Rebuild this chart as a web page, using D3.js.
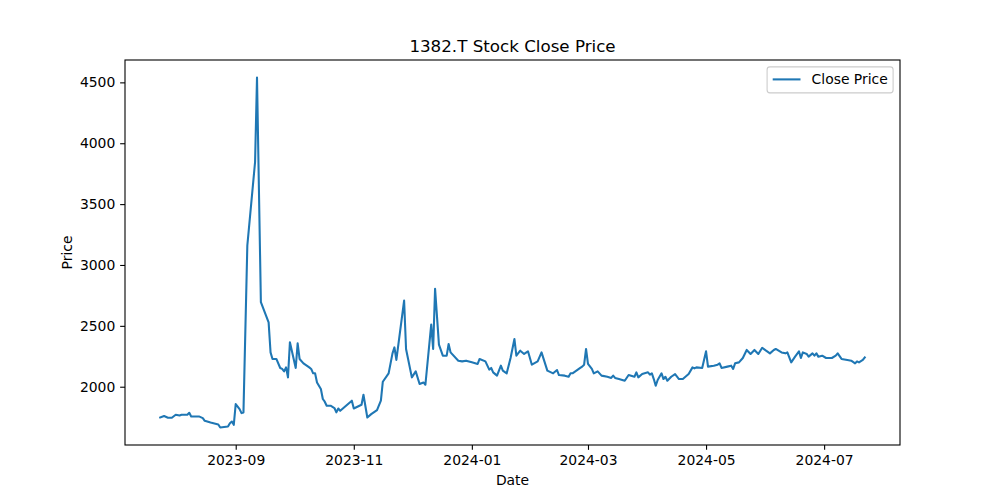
<!DOCTYPE html>
<html>
<head>
<meta charset="utf-8">
<script src="https://cdn.jsdelivr.net/npm/d3@7"></script>
<style>
  html, body { margin: 0; padding: 0; background: #fff; }
  svg { display: block; }
  text { font-family: "DejaVu Sans", sans-serif; fill: #000; }
</style>
</head>
<body>
<svg id="chart" width="1000" height="500"></svg>
<script>
const chartTitle = "1382.T Stock Close Price";
const xLabel = "Date";
const yLabel = "Price";
const seriesName = "Close Price";

const dates = [
  "2023-07-24","2023-07-26","2023-07-28","2023-07-30","2023-08-01","2023-08-03","2023-08-04","2023-08-07",
  "2023-08-08","2023-08-09","2023-08-11","2023-08-13","2023-08-15","2023-08-16","2023-08-19","2023-08-21",
  "2023-08-23","2023-08-24","2023-08-28","2023-08-29","2023-08-30","2023-08-31","2023-09-01","2023-09-03",
  "2023-09-04","2023-09-05","2023-09-07","2023-09-11","2023-09-12","2023-09-14","2023-09-18","2023-09-19",
  "2023-09-20","2023-09-22","2023-09-24","2023-09-25","2023-09-26","2023-09-27","2023-09-28","2023-09-29",
  "2023-10-02","2023-10-03","2023-10-04","2023-10-06","2023-10-09","2023-10-10","2023-10-11","2023-10-12",
  "2023-10-13","2023-10-15","2023-10-16","2023-10-17","2023-10-18","2023-10-20","2023-10-22","2023-10-23",
  "2023-10-24","2023-10-25","2023-10-28","2023-10-31","2023-11-01","2023-11-05","2023-11-06","2023-11-08",
  "2023-11-10","2023-11-13","2023-11-15","2023-11-16","2023-11-19","2023-11-21","2023-11-22","2023-11-23",
  "2023-11-27","2023-11-28","2023-12-01","2023-12-03","2023-12-05","2023-12-07","2023-12-08","2023-12-11",
  "2023-12-12","2023-12-13","2023-12-15","2023-12-17","2023-12-19","2023-12-20","2023-12-21","2023-12-25",
  "2023-12-27","2023-12-29","2024-01-01","2024-01-04","2024-01-05","2024-01-08","2024-01-10","2024-01-11",
  "2024-01-12","2024-01-14","2024-01-16","2024-01-17","2024-01-19","2024-01-21","2024-01-23","2024-01-24",
  "2024-01-26","2024-01-28","2024-01-30","2024-02-01","2024-02-04","2024-02-06","2024-02-09","2024-02-12",
  "2024-02-14","2024-02-15","2024-02-18","2024-02-20","2024-02-21","2024-02-22","2024-02-24","2024-02-26",
  "2024-02-27","2024-02-28","2024-02-29","2024-03-01","2024-03-03","2024-03-04","2024-03-06","2024-03-08",
  "2024-03-11","2024-03-13","2024-03-14","2024-03-15","2024-03-17","2024-03-20","2024-03-22","2024-03-25",
  "2024-03-26","2024-03-27","2024-03-29","2024-04-01","2024-04-02","2024-04-03","2024-04-04","2024-04-05",
  "2024-04-06","2024-04-08","2024-04-09","2024-04-10","2024-04-11","2024-04-13","2024-04-15","2024-04-17",
  "2024-04-19","2024-04-22","2024-04-24","2024-04-25","2024-04-26","2024-04-29","2024-05-01","2024-05-02",
  "2024-05-05","2024-05-07","2024-05-08","2024-05-09","2024-05-12","2024-05-14","2024-05-15","2024-05-16",
  "2024-05-18","2024-05-20","2024-05-22","2024-05-24","2024-05-26","2024-05-28","2024-05-30","2024-06-01",
  "2024-06-03","2024-06-05","2024-06-06","2024-06-09","2024-06-11","2024-06-12","2024-06-14","2024-06-16",
  "2024-06-18","2024-06-19","2024-06-20","2024-06-22","2024-06-23","2024-06-25","2024-06-26","2024-06-27",
  "2024-06-28","2024-06-30","2024-07-02","2024-07-05","2024-07-07","2024-07-08","2024-07-10","2024-07-13",
  "2024-07-15","2024-07-17","2024-07-18","2024-07-19","2024-07-21","2024-07-22"
];

const closePrices = [
  1747,1759,1745,1745,1770,1764,1770,1770,
  1786,1756,1756,1756,1742,1720,1706,1698,
  1690,1665,1673,1700,1714,1687,1858,1816,
  1783,1789,3160,3846,4540,2694,2529,2282,
  2228,2228,2154,2146,2126,2159,2077,2365,
  2154,2357,2228,2192,2159,2146,2110,2110,
  2035,1981,1899,1877,1844,1844,1825,1789,
  1821,1802,1844,1885,1821,1852,1934,1747,
  1775,1808,1885,2041,2110,2274,2323,2220,
  2708,2310,2077,2126,2022,2035,2016,2510,
  2310,2804,2346,2255,2255,2351,2282,2214,
  2208,2214,2200,2187,2228,2208,2140,2154,
  2118,2091,2173,2132,2110,2236,2392,2255,
  2296,2269,2291,2181,2208,2282,2132,2110,
  2137,2096,2091,2082,2110,2110,2132,2154,
  2165,2181,2310,2187,2146,2110,2126,2091,
  2082,2072,2091,2072,2063,2049,2096,2082,
  2118,2077,2104,2118,2099,2110,2063,2008,
  2055,2110,2063,2082,2049,2082,2104,2063,
  2063,2104,2159,2151,2159,2154,2291,2165,
  2173,2181,2192,2154,2165,2173,2146,2192,
  2200,2236,2302,2269,2302,2269,2320,2296,
  2274,2302,2310,2282,2274,2282,2200,2247,
  2291,2236,2282,2269,2247,2274,2255,2274,
  2247,2255,2236,2236,2255,2274,2228,2220,
  2214,2192,2208,2200,2220,2241
];

const yTickValues = [2000, 2500, 3000, 3500, 4000, 4500];
const xTickDates = ["2023-09-01","2023-11-01","2024-01-01","2024-03-01","2024-05-01","2024-07-01"];

const parse = d3.utcParse("%Y-%m-%d");
const data = dates.map((d, i) => ({ date: parse(d), value: closePrices[i] }));

const W = 1000, H = 500;
const margin = { left: 125, right: 100, top: 60, bottom: 55 };
const x0 = margin.left, x1 = W - margin.right, y0 = margin.top, y1 = H - margin.bottom;

const xExt = d3.extent(data, d => d.date);
const xPad = (xExt[1] - xExt[0]) * 0.05;
const x = d3.scaleUtc()
  .domain([new Date(+xExt[0] - xPad), new Date(+xExt[1] + xPad)])
  .range([x0, x1]);

const yExt = d3.extent(data, d => d.value);
const yPad = (yExt[1] - yExt[0]) * 0.05;
const y = d3.scaleLinear()
  .domain([yExt[0] - yPad, yExt[1] + yPad])
  .range([y1, y0]);

const svg = d3.select("#chart");
const fs = 13.9;
const tickLen = 4.86;

// line
const line = d3.line().x(d => x(d.date)).y(d => y(d.value));
svg.append("path")
  .datum(data)
  .attr("fill", "none")
  .attr("stroke", "#1f77b4")
  .attr("stroke-width", 2.08)
  .attr("stroke-linejoin", "round")
  .attr("stroke-linecap", "square")
  .attr("d", line);

// axes
const xAxis = d3.axisBottom(x)
  .tickValues(xTickDates.map(parse))
  .tickFormat(d3.utcFormat("%Y-%m"))
  .tickSize(tickLen).tickPadding(4.86);
const gx = svg.append("g").attr("transform", `translate(0,${y1})`).call(xAxis);

const yAxis = d3.axisLeft(y)
  .tickValues(yTickValues)
  .tickFormat(d3.format("d"))
  .tickSize(tickLen).tickPadding(4.86);
const gy = svg.append("g").attr("transform", `translate(${x0},0)`).call(yAxis);

[gx, gy].forEach(g => {
  g.select(".domain").remove();
  g.selectAll(".tick line").attr("stroke", "#000").attr("stroke-width", 1.1);
  g.selectAll(".tick text")
    .attr("font-family", "DejaVu Sans, sans-serif")
    .attr("font-size", fs)
    .attr("fill", "#000");
});

// frame (spines)
svg.append("rect")
  .attr("x", x0).attr("y", y0)
  .attr("width", x1 - x0).attr("height", y1 - y0)
  .attr("fill", "none")
  .attr("stroke", "#000")
  .attr("stroke-width", 1.1);

// title and labels
svg.append("text")
  .attr("x", (x0 + x1) / 2).attr("y", 52)
  .attr("text-anchor", "middle")
  .attr("font-size", 16.7)
  .text(chartTitle);

svg.append("text")
  .attr("x", (x0 + x1) / 2).attr("y", 485)
  .attr("text-anchor", "middle")
  .attr("font-size", fs)
  .text(xLabel);

svg.append("text")
  .attr("transform", `translate(72,${(y0 + y1) / 2}) rotate(-90)`)
  .attr("text-anchor", "middle")
  .attr("font-size", fs)
  .text(yLabel);

// legend
const legW = 126, legH = 26;
const legX = x1 - 6.9 - legW, legY = y0 + 6.9;
const leg = svg.append("g");
leg.append("rect")
  .attr("x", legX).attr("y", legY)
  .attr("width", legW).attr("height", legH)
  .attr("rx", 2.8)
  .attr("fill", "#fff").attr("fill-opacity", 0.8)
  .attr("stroke", "#cccccc").attr("stroke-width", 1.1);
leg.append("line")
  .attr("x1", legX + 5.6).attr("x2", legX + 5.6 + 27.8)
  .attr("y1", legY + legH / 2 - 0.5).attr("y2", legY + legH / 2 - 0.5)
  .attr("stroke", "#1f77b4").attr("stroke-width", 2.08);
leg.append("text")
  .attr("x", legX + 5.6 + 27.8 + 11.1)
  .attr("y", legY + legH / 2)
  .attr("dy", "0.3em")
  .attr("font-size", fs)
  .text(seriesName);
</script>
</body>
</html>
